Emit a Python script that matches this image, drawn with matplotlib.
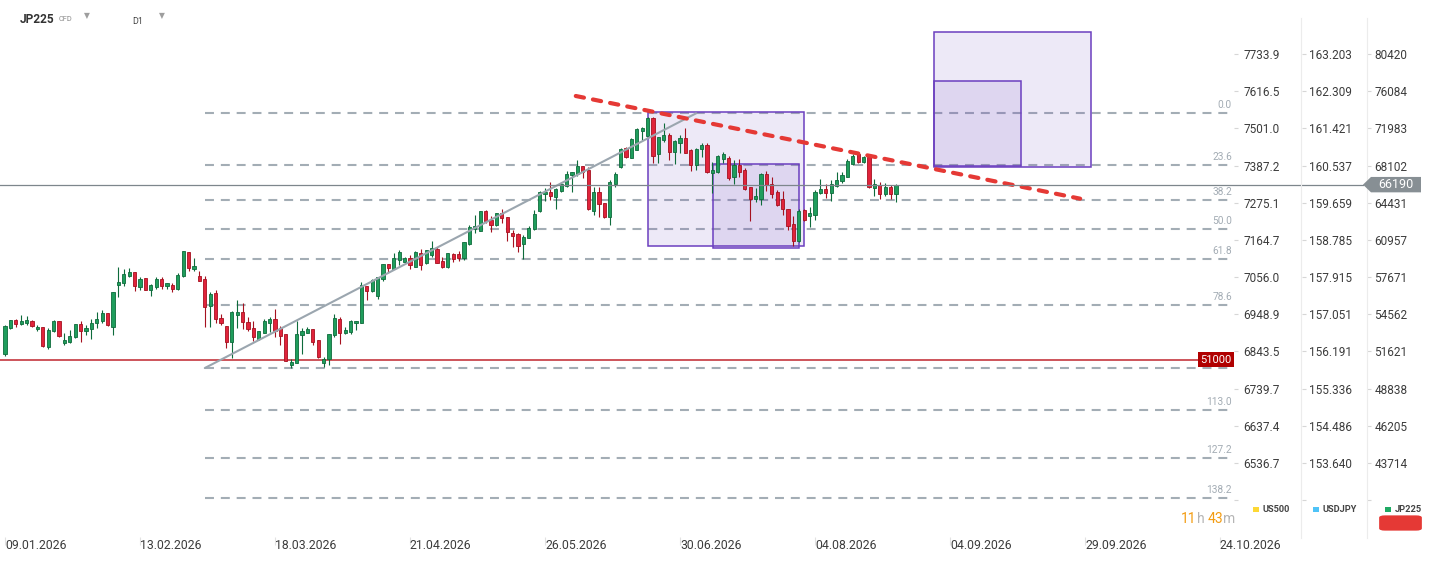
import numpy as np
import matplotlib
matplotlib.use("Agg")
import matplotlib.pyplot as plt
from matplotlib import transforms as mtrans
from matplotlib.patches import Rectangle, Polygon, FancyBboxPatch
from matplotlib.lines import Line2D
from matplotlib.ticker import NullLocator

plt.rcParams['font.family'] = ['Roboto', 'DejaVu Sans']

# ---------------- data (JP225 daily candles) ----------------
opens = [51420, 53430, 54070, 53800, 53880, 54010, 53350, 53510, 51990, 53190,
         53990, 52300, 52340, 52720, 53750, 53190, 53400, 53830, 53990, 54640,
         53560, 57020, 57140, 57790, 58080, 56850, 57570, 56600, 56850, 57510,
         56940, 56970, 56630, 57770, 59840, 58400, 57770, 57480, 55240, 56290,
         54230, 53610, 52380, 54530, 54750, 53940, 53430, 52560, 53080, 53880,
         54150, 53480, 52960, 50590, 50720, 52880, 53080, 53380, 52510, 50720,
         51030, 52880, 54150, 53030, 53140, 53830, 53880, 56910, 56520, 56090,
         57540, 58780, 58400, 59160, 58960, 59330, 58570, 59780, 58870, 59600,
         60120, 59100, 58510, 59690, 59690, 59360, 60560, 61930, 61800, 63640,
         62790, 62350, 63420, 63100, 61620, 61500, 60560, 61160, 61930, 63640,
         65250, 65440, 65020, 65600, 66060, 67120, 67220, 68060, 67620, 63670,
         65440, 64380, 63050, 66280, 67920, 69940, 68910, 69700, 71740, 71170,
         73070, 69250, 70750, 71280, 69520, 70460, 70930, 69700, 68160, 69770,
         70220, 67380, 67480, 68770, 68850, 66980, 68160, 67650, 65930, 64770,
         64820, 67220, 66250, 65500, 64770, 63810, 62390, 60880, 63740, 63200,
         63260, 65340, 65770, 65340, 66090, 66580, 66980, 68260, 69250, 68490,
         68950, 65890, 66160, 65300, 65990, 65250]
highs = [53690, 54090, 54150, 54480, 54420, 54090, 53690, 53510, 53430, 54090,
         53990, 53030, 53290, 53770, 54010, 53690, 54180, 54750, 54890, 54660,
         56380, 58570, 58340, 58450, 58080, 57660, 57620, 57080, 57660, 57710,
         57160, 57140, 58050, 59960, 59840, 59330, 58220, 57790, 56380, 56570,
         54580, 53610, 54850, 55700, 55460, 54370, 54040, 53190, 54200, 54370,
         54990, 53610, 52960, 51010, 53990, 53430, 53510, 53380, 52510, 51170,
         52980, 54580, 54310, 53510, 54090, 54010, 57220, 56910, 57480, 57710,
         58810, 58810, 59750, 60030, 59400, 59570, 59930, 60120, 60050, 60860,
         60350, 59400, 59780, 59780, 59930, 60800, 62300, 63260, 63680, 63740,
         63200, 63490, 63800, 63100, 61870, 61620, 61410, 62230, 63740, 65600,
         65830, 66450, 65830, 66480, 67580, 67480, 68670, 68060, 67990, 65930,
         65930, 64430, 66650, 67450, 69880, 70050, 70930, 72060, 72160, 73250,
         73250, 71100, 72590, 71460, 70750, 71280, 71990, 69770, 69880, 70460,
         70400, 68490, 69180, 69460, 69080, 68670, 68740, 67820, 65990, 65830,
         67320, 67550, 66980, 65660, 65570, 63860, 63170, 63810, 63810, 63990,
         65660, 66750, 66250, 66650, 67480, 67480, 68770, 69250, 69360, 69110,
         69010, 66750, 66480, 66320, 66160, 66260]
lows = [51290, 53400, 53510, 53670, 53670, 53560, 53210, 51990, 51830, 53140,
        52740, 52140, 52300, 52660, 52380, 52880, 52560, 53480, 53880, 53640,
        52930, 56010, 56940, 57710, 56520, 56600, 56570, 56090, 56630, 56660,
        56630, 56430, 56600, 57710, 58220, 58220, 57340, 53530, 53530, 53880,
        53690, 51910, 51100, 53480, 53350, 53210, 52460, 52530, 53030, 53140,
        52770, 52120, 50890, 50390, 50720, 51420, 53060, 52100, 51140, 50460,
        50570, 52770, 52170, 52960, 52980, 53290, 53880, 55740, 56430, 55850,
        57360, 58080, 58340, 58690, 58870, 58340, 58510, 58280, 58830, 59450,
        58870, 58430, 58480, 58980, 59070, 59160, 60500, 61620, 61770, 62480,
        61710, 62260, 62480, 60880, 60350, 59900, 59270, 61100, 61860, 63550,
        64600, 64690, 63860, 65500, 65930, 65500, 67050, 66850, 63740, 63260,
        63050, 63010, 62330, 65930, 67850, 68910, 68850, 69700, 70750, 71100,
        68330, 68330, 70570, 68670, 68260, 69420, 69420, 67580, 67650, 68980,
        67320, 65400, 67320, 68330, 66650, 66250, 66980, 65660, 62730, 64530,
        64210, 65600, 64920, 64120, 63260, 61860, 60410, 60800, 62730, 62110,
        62790, 65270, 64920, 64630, 65990, 66320, 66920, 68160, 68390, 68390,
        65890, 65080, 64770, 65080, 64770, 64530]
closes = [53610, 54070, 53800, 54010, 54090, 53590, 53510, 52060, 53270, 54010,
          52800, 52510, 52800, 53750, 53190, 53450, 53830, 54180, 54660, 53670,
          56380, 57250, 57910, 58080, 56880, 57540, 56600, 56970, 57480, 56940,
          57160, 56690, 57820, 59930, 58480, 58630, 57360, 55130, 56210, 54150,
          53880, 52380, 54770, 54750, 53960, 53350, 52740, 53190, 54010, 54180,
          53210, 52850, 50900, 50820, 52960, 53210, 53400, 52340, 51170, 51060,
          52960, 54230, 53080, 53270, 54010, 54010, 56970, 56520, 57390, 57660,
          58780, 58450, 59310, 59900, 59310, 58750, 59870, 58720, 60030, 60200,
          58920, 58510, 59780, 59270, 59360, 60740, 62170, 62260, 63620, 62700,
          62350, 63420, 62950, 61710, 61320, 60430, 61190, 62020, 63360, 65440,
          65440, 65110, 65740, 66250, 67250, 67420, 68060, 67480, 63830, 65470,
          64280, 63050, 66450, 67250, 69770, 68950, 70820, 71920, 72060, 73070,
          69110, 71030, 71280, 69520, 70640, 70930, 69420, 68160, 69800, 70220,
          67400, 67650, 69080, 69320, 66870, 68160, 67480, 65760, 64820, 65080,
          67220, 66160, 65270, 64180, 63810, 62260, 60880, 63640, 62790, 63420,
          65500, 65740, 65400, 66250, 66650, 67150, 68570, 69080, 68490, 69010,
          65930, 66250, 65300, 65930, 65250, 66190]

date_labels = ['09.01.2026', '13.02.2026', '18.03.2026', '21.04.2026', '26.05.2026',
               '30.06.2026', '04.08.2026', '04.09.2026', '29.09.2026', '24.10.2026']
date_bars = [0, 25, 50, 75, 100, 125, 150, 175, 200, 225]

jp225_ticks = [80420, 76084, 71983, 68102, 64431, 60957, 57671, 54562, 51621, 48838, 46205, 43714]
us500_labels = ['7733.9', '7616.5', '7501.0', '7387.2', '7275.1', '7164.7', '7056.0',
                '6948.9', '6843.5', '6739.7', '6637.4', '6536.7']
usdjpy_labels = ['163.203', '162.309', '161.421', '160.537', '159.659', '158.785', '157.915',
                 '157.051', '156.191', '155.336', '154.486', '153.640']
jp225_labels = [str(v) for v in jp225_ticks]

fib_levels = [0.0, 23.6, 38.2, 50.0, 61.8, 78.6, 100.0, 113.0, 127.2, 138.2]
fib_top, fib_bottom = 73620, 50360
fib_start_bar = 37

trend_bars, trend_prices = [37, 128], [50360, 73620]
resist_bars, resist_prices = [105.7, 199.1], [75540, 64820]
boxes = [  # bar_from, bar_to, price_low, price_high
    (119.1, 148.0, 60380, 73790),
    (131.2, 147.1, 60200, 68230),
    (172.1, 201.2, 67920, 83060),
    (172.1, 188.1, 68090, 77210),
]
support_level = 51000
last_price = 66190

# ---------------- figure ----------------
W, H = 1434, 563
fig = plt.figure(figsize=(W / 100, H / 100), dpi=100)
fig.patch.set_facecolor('white')
R_PX, T_PX, B_PX = 1234, 18, 537
ax = fig.add_axes([0, 1 - B_PX / H, R_PX / W, (B_PX - T_PX) / H])
ax.set_facecolor('white')
ax.set_yscale('log')
bar_px = 5.4
x0 = -5 / bar_px
x1 = x0 + R_PX / bar_px
ax.set_xlim(x0, x1)
ylim = (39150, 84850)
ax.set_ylim(*ylim)
for s in ax.spines.values():
    s.set_visible(False)

GREEN, GREEN_E = '#1f9d5c', '#0e6b3b'
RED, RED_E = '#e0233b', '#a5111f'

# candles
idx = np.arange(len(opens))
o = np.array(opens, float); c = np.array(closes, float)
h = np.array(highs, float); l = np.array(lows, float)
up = c >= o
body_col = [GREEN if u else RED for u in up]
edge_col = [GREEN_E if u else RED_E for u in up]
ax.vlines(idx, l, h, colors=edge_col, lw=0.8, zorder=4)
ax.bar(idx, np.maximum(np.abs(c - o), 15), bottom=np.minimum(o, c), width=0.6,
       color=body_col, edgecolor=edge_col, linewidth=0.6, zorder=5)

# fibonacci levels
fib_prices = [fib_top - lv / 100 * (fib_top - fib_bottom) for lv in fib_levels]
for lv, p in zip(fib_levels, fib_prices):
    ax.plot([fib_start_bar, x1], [p, p], color='#a3adb5', lw=1.5,
            ls=(0, (4.3, 3.3)), zorder=1)
    if lv != 100.0:  # the 100.0 label sits under the 51000 tag in the reference
        ax.annotate(f'{lv:.1f}', xy=(x1, p), xytext=(-2, 3), textcoords='offset pixels',
                    ha='right', va='bottom', fontsize=7.3, color='#a3acb4', zorder=1)

# boxes
for (xa, xb, pa, pb) in boxes:
    ax.add_patch(Rectangle((xa, pa), xb - xa, pb - pa, facecolor=(0.45, 0.30, 0.75, 0.12),
                           edgecolor='#6b3fbf', lw=1.1, zorder=2))

# trend lines
ax.plot(trend_bars, trend_prices, color='#9ba6af', lw=1.5, zorder=6, solid_capstyle='round')
ax.plot(resist_bars, resist_prices, color='#e53935', lw=3.0, ls=(0, (2.0, 2.2)),
        dash_capstyle='round', zorder=7)

# support line & label
ax.plot([x0, x1], [support_level, support_level], color='#c0262d', lw=1.1, zorder=3)
bt = mtrans.blended_transform_factory(ax.transAxes, ax.transData)
ax.text((R_PX - 2.4) / R_PX, support_level, f'{support_level}', transform=bt, ha='right',
        va='center', fontsize=8, color='white', zorder=10,
        bbox=dict(boxstyle='square,pad=0.2', fc='#b00000', ec='none'))

# current price line
ax.plot([0, 1363 / R_PX], [last_price, last_price], transform=bt, clip_on=False,
        color='#7d868c', lw=0.9, zorder=8)

# x axis
ax.set_xticks(date_bars)
ax.set_xticklabels(date_labels, ha='left')
ax.tick_params(axis='x', length=6, width=0.8, color='#e2e2e2', pad=-4.6,
               labelsize=8.8, labelcolor='#3c3c3c')

# y axes (three columns on the right)
extra_tick = 41357


def style_y(a, labels, pad):
    a.set_yscale('log')
    a.set_ylim(*ylim)
    a.yaxis.set_minor_locator(NullLocator())
    a.set_yticks(jp225_ticks + [extra_tick])
    a.set_yticklabels(labels + [''])
    a.yaxis.tick_right()
    a.tick_params(axis='y', which='major', direction='out', length=3.2, width=0.8,
                  color='#d6d6d6', pad=pad, labelsize=8.5, labelcolor='#3c3c3c')
    for s in a.spines.values():
        s.set_visible(False)


ax1 = ax.twinx()
style_y(ax1, us500_labels, 3.4)
ax2 = ax.twinx()
style_y(ax2, usdjpy_labels, 2.2)
ax2.spines['right'].set_position(('axes', 1302 / R_PX))
ax3 = ax.twinx()
style_y(ax3, jp225_labels, 2.2)
ax3.spines['right'].set_position(('axes', 1367 / R_PX))
ax.yaxis.set_minor_locator(NullLocator())
ax.set_yticks([])
ax.tick_params(axis='y', left=False, right=False, labelleft=False, labelright=False)

# column separators
for xs in (1301, 1367):
    fig.add_artist(Line2D([xs / W, xs / W], [1 - 18 / H, 1 - 538 / H], transform=fig.transFigure,
                          color='#ececec', lw=0.8))

# last price tag
yd = ax.transData.transform((0, last_price))[1]
tag = Polygon([(1363, yd), (1371, yd + 7.7), (1421, yd + 7.7), (1421, yd - 7.7), (1371, yd - 7.7)],
              closed=True, transform=mtrans.IdentityTransform(), facecolor='#878f94',
              edgecolor='none', zorder=20)
fig.add_artist(tag)
fig.text(1396 / W, yd / H, f'{last_price}', ha='center', va='center', fontsize=9,
         color='white', zorder=21)


# header
def fy(py):
    return 1 - py / H


fig.text(20 / W, fy(23.3), 'JP225', fontsize=8.6, fontweight='bold', color='#333333', va='baseline')
fig.text(59 / W, fy(21.2), 'CFD', fontsize=5.3, color='#8a8a8a', va='baseline')
fig.text(86.5 / W, fy(15.8), '▼', fontsize=5.5, color='#9e9e9e', ha='center', va='center',
         family='DejaVu Sans')
fig.text(132 / W, fy(23.5), 'D1', fontsize=6.4, color='#444444', va='baseline')
fig.text(162 / W, fy(15.8), '▼', fontsize=5.5, color='#9e9e9e', ha='center', va='center',
         family='DejaVu Sans')

# countdown
orange, grey = '#f39c12', '#b5b5b5'
for txt, px, col in (('11', 1181, orange), ('h', 1196.6, grey), ('43', 1207.7, orange), ('m', 1223.3, grey)):
    fig.text(px / W, fy(523), txt, fontsize=10, color=col, va='baseline')

# legend
for px, col, name in ((1253, '#fdd835', 'US500'), (1313, '#4fc3f7', 'USDJPY'), (1385, '#1faa64', 'JP225')):
    fig.add_artist(Rectangle((px / W, fy(512)), 5.5 / W, 5.5 / H, transform=fig.transFigure,
                             facecolor=col, edgecolor='none'))
    fig.text((px + 9.5) / W, fy(509.5), name, fontsize=6.7, fontweight='bold', color='#444444',
             va='center')
fig.add_artist(FancyBboxPatch((1382 / W, fy(529.5)), 37 / W, 13 / H, transform=fig.transFigure,
                              boxstyle='round,pad=0.002,rounding_size=0.004',
                              facecolor='#e53935', edgecolor='none'))

fig.savefig('out.png', dpi=100)
